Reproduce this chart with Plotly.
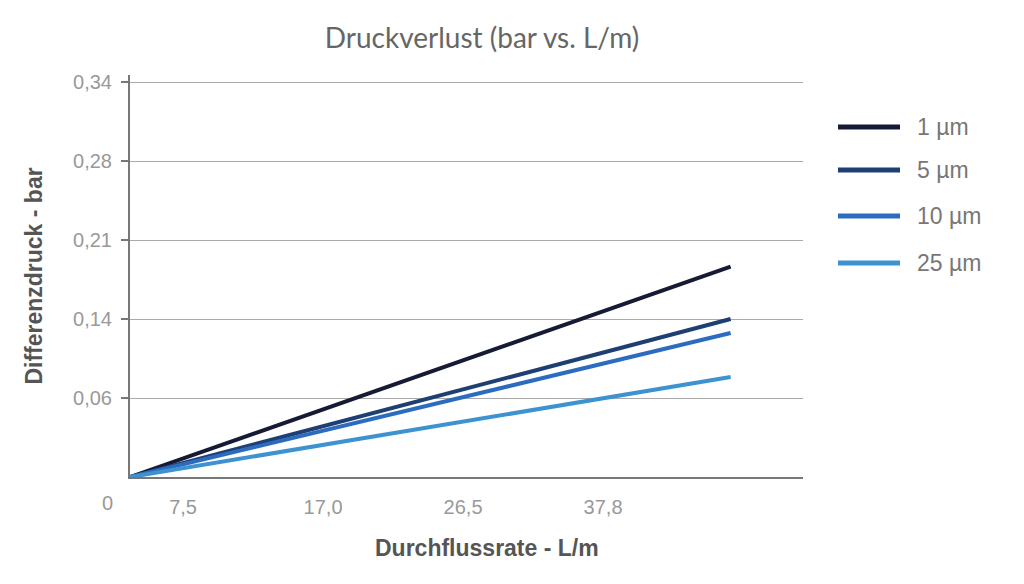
import plotly.graph_objects as go

# ---- data ----
series_names = ["1 µm", "5 µm", "10 µm", "25 µm"]
series_colors = ["#161b35", "#1e3f72", "#2b6cbf", "#3c93d0"]
# x in axis position units (tick spacing = 1), lines start at origin
flow_pos = [0.0, 4.29]
# end pressure values (bar, axis scale 0..0.34)
dp_1um = [0.0, 0.181]
dp_5um = [0.0, 0.136]
dp_10um = [0.0, 0.124]
dp_25um = [0.0, 0.086]
series_values = [dp_1um, dp_5um, dp_10um, dp_25um]

x_tick_pos = [0.379, 1.379, 2.379, 3.379]
x_tick_text = ["7,5", "17,0", "26,5", "37,8"]
y_tick_vals = [0.068, 0.136, 0.204, 0.272, 0.34]
y_tick_text = ["0,06", "0,14", "0,21", "0,28", "0,34"]

SANS = "Arial"

fig = go.Figure()
for name, color, vals in zip(series_names, series_colors, series_values):
    fig.add_trace(go.Scatter(x=flow_pos, y=vals, mode="lines", name=name,
                             line=dict(color=color, width=4), showlegend=False))

# plot area in pixels: x 130..803, y 75..477
def px(x):
    return (x - 130) / 673

def py(y):
    return (477 - y) / 402

# manual legend (long line symbols)
leg_y = [127, 170, 216, 263]
for i, (name, color) in enumerate(zip(series_names, series_colors)):
    fig.add_shape(type="line", xref="paper", yref="paper",
                  x0=px(838), x1=px(900), y0=py(leg_y[i]), y1=py(leg_y[i]),
                  line=dict(color=color, width=5))
    fig.add_annotation(xref="paper", yref="paper", x=px(915), y=py(leg_y[i]),
                       text=name, showarrow=False, xanchor="left", yanchor="middle",
                       font=dict(family=SANS, size=23, color="#777"))

fig.add_annotation(xref="paper", yref="paper", x=px(107), y=py(503),
                   text="0", showarrow=False, xanchor="center", yanchor="middle",
                   font=dict(family=SANS, size=20, color="#999"))

# x-axis title (offset to the right of the plot centre as in the original)
fig.add_annotation(xref="paper", yref="paper", x=px(487), y=py(548),
                   text="<b>Durchflussrate - L/m</b>", showarrow=False,
                   xanchor="center", yanchor="middle",
                   font=dict(family=SANS, size=23, color="#555"))

fig.update_layout(
    width=1024, height=584,
    font=dict(family=SANS),
    margin=dict(l=130, r=221, t=75, b=107, autoexpand=False),
    paper_bgcolor="white", plot_bgcolor="white",
    title=dict(text="Druckverlust (bar vs. L/m)", x=482 / 1024, xanchor="center",
               y=1 - 38 / 584, yanchor="middle",
               font=dict(family="Lato", size=28, color="#666")),
    xaxis=dict(range=[0, 673 / 140], tickvals=x_tick_pos, ticktext=x_tick_text,
               showgrid=False, zeroline=False, showline=True, linecolor="#777",
               linewidth=2, ticks="", ticklabelstandoff=11,
               tickfont=dict(family=SANS, size=20, color="#999")),
    yaxis=dict(range=[0, 0.34 + 7 / 79 * 0.068], tickvals=y_tick_vals, ticktext=y_tick_text,
               showgrid=True, gridcolor="#aaa", gridwidth=1, zeroline=False,
               showline=True, linecolor="#777", linewidth=2,
               ticks="outside", ticklen=7, tickcolor="#777", tickwidth=2,
               ticklabelstandoff=5,
               tickfont=dict(family=SANS, size=20, color="#999"),
               title=dict(text="<b>Differenzdruck - bar</b>", standoff=24,
                          font=dict(family=SANS, size=23, color="#555"))),
)

fig.write_html("out.html")
